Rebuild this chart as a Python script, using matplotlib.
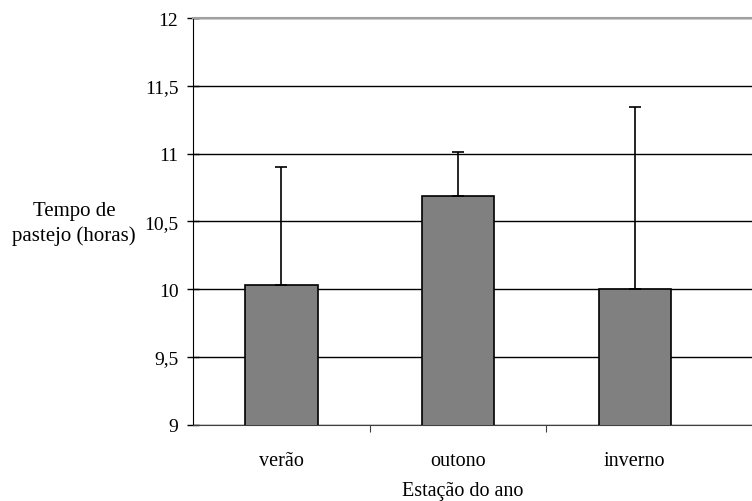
import numpy as np
import matplotlib.pyplot as plt

# data
estacoes = ["verão", "outono", "inverno"]
media = [10.03, 10.69, 10.00]
erro_sup = [0.87, 0.32, 1.34]
y_ticks = [9, 9.5, 10, 10.5, 11, 11.5, 12]
y_labels = ["9", "9,5", "10", "10,5", "11", "11,5", "12"]

plt.rcParams["font.family"] = ["Liberation Serif", "DejaVu Serif"]

fig = plt.figure(figsize=(7.52, 5.02), dpi=100)
W, H = 752, 502
left, right, top, bottom = 193, 752, 19, 425.7
ax = fig.add_axes([left / W, 1 - bottom / H, (right - left) / W, (bottom - top) / H])

x = np.arange(len(estacoes))
ax.bar(x, media, width=0.41, color="#808080", edgecolor="black", linewidth=1.2, zorder=3)
ax.errorbar(x, media, yerr=[np.zeros(len(media)), erro_sup], fmt="none",
            ecolor="black", elinewidth=1.2, capsize=4, capthick=1.2, zorder=4)

ax.set_xlim(-0.5, -0.5 + (right - left) / 176.7)
ax.set_ylim(9, 12)
ax.set_yticks(y_ticks)
ax.set_yticklabels(y_labels, fontsize=14)
ax.yaxis.grid(True, color="black", linewidth=1.0, zorder=0)
ax.set_axisbelow(True)

ax.set_xticks(x)
ax.set_xticklabels(estacoes, fontsize=14.5)
ax.set_xticks([0.5, 1.5], minor=True)
ax.tick_params(axis="x", which="major", length=0, pad=19)
ax.tick_params(axis="x", which="minor", length=5, width=0.8, direction="out", color="#404040")
ax.tick_params(axis="y", direction="inout", length=9, width=1.0, pad=6)

ax.spines["right"].set_visible(False)
ax.spines["top"].set_color("#a0a0a0")
ax.spines["top"].set_linewidth(1.5)
ax.spines["left"].set_color("black")
ax.spines["bottom"].set_color("#404040")

fig.text(74 / W, 1 - 224 / H, "Tempo de\npastejo (horas)", ha="center", va="center",
         fontsize=15, linespacing=1.35)
fig.text(463 / W, 1 - 492 / H, "Estação do ano", ha="center", va="center", fontsize=14.5)

fig.savefig("out.png", dpi=100)
